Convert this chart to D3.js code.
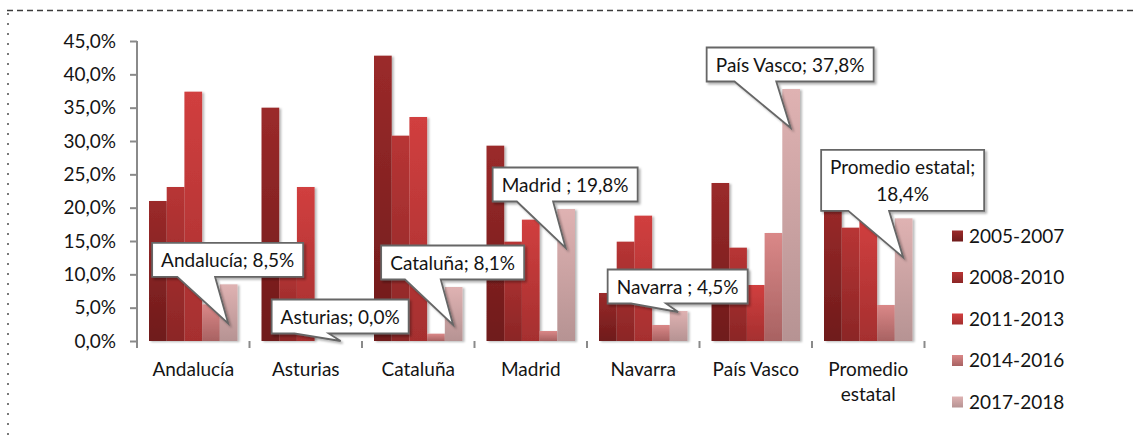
<!DOCTYPE html>
<html><head><meta charset="utf-8">
<script src="https://cdn.jsdelivr.net/npm/d3@7"></script>
<style>
body{margin:0;background:#fff}
svg{display:block}
text{font-family:Lato,"Open Sans",sans-serif;fill:#141414}
</style>
</head><body><svg id="chart" width="1136" height="441"></svg>
<script>
// ---- data ----
const categories = ["Andalucía","Asturias","Cataluña","Madrid","Navarra","País Vasco","Promedio estatal"];
const seriesNames = ["2005-2007","2008-2010","2011-2013","2014-2016","2017-2018"];
const v2005_2007 = [21.0, 35.0, 42.8, 29.3, 7.2, 23.7, 21.0];
const v2008_2010 = [23.1, 12.0, 30.8, 14.9, 14.9, 14.0, 17.0];
const v2011_2013 = [37.4, 23.1, 33.6, 18.2, 18.8, 8.4, 18.5];
const v2014_2016 = [5.5, 0.0, 1.1, 1.5, 2.4, 16.2, 5.4];
const v2017_2018 = [8.5, 0.0, 8.1, 19.8, 4.5, 37.8, 18.4];
const yTicks = [0, 5, 10, 15, 20, 25, 30, 35, 40, 45];
const calloutTexts = [
  ["Andalucía; 8,5%"],
  ["Asturias; 0,0%"],
  ["Cataluña; 8,1%"],
  ["Madrid ; 19,8%"],
  ["Navarra ; 4,5%"],
  ["País Vasco; 37,8%"],
  ["Promedio estatal;", "18,4%"]
];

// ---- styles / layout ----
const seriesValues = [v2005_2007, v2008_2010, v2011_2013, v2014_2016, v2017_2018];
const colTop = ["#9b2a2a", "#b83535", "#d13f3f", "#da8888", "#dfb2b2"];
const colBot = ["#6f1b1b", "#8b2626", "#a52f2f", "#a86262", "#b69393"];
const tipDy = [39, 0, 38, 39, 1, 39, 39];

const svg = d3.select("#chart");
const W = 1136, H = 441;
svg.append("rect").attr("width", W).attr("height", H).attr("fill", "#fff");

const defs = svg.append("defs");
seriesNames.forEach((s, i) => {
  const g = defs.append("linearGradient").attr("id", "g" + i)
    .attr("x1", 0).attr("y1", 0).attr("x2", 0).attr("y2", 1);
  g.append("stop").attr("offset", "0%").attr("stop-color", colTop[i]);
  g.append("stop").attr("offset", "100%").attr("stop-color", colBot[i]);
});
const f = defs.append("filter").attr("id", "sh").attr("x", "-20%").attr("y", "-20%").attr("width", "150%").attr("height", "150%");
f.append("feDropShadow").attr("dx", 2).attr("dy", 1).attr("stdDeviation", 1.3)
  .attr("flood-color", "#000").attr("flood-opacity", 0.28);
const f2 = defs.append("filter").attr("id", "sh2").attr("x", "-20%").attr("y", "-20%").attr("width", "150%").attr("height", "150%");
f2.append("feDropShadow").attr("dx", 2).attr("dy", 2).attr("stdDeviation", 1.2)
  .attr("flood-color", "#000").attr("flood-opacity", 0.3);

// frame
svg.append("line").attr("x1", 7).attr("x2", W).attr("y1", 10.5).attr("y2", 10.5)
  .attr("stroke", "#3c3c3c").attr("stroke-width", 1.3).attr("stroke-dasharray", "6,4");
svg.append("line").attr("x1", 8).attr("x2", 8).attr("y1", 13).attr("y2", H)
  .attr("stroke", "#7a7a7a").attr("stroke-width", 2).attr("stroke-dasharray", "2,8");

// scales
const x = d3.scaleBand().domain(categories).range([137, 924.5]);
const xs = d3.scaleBand().domain(seriesNames).range([12, x.bandwidth() - 12]);
const y = d3.scaleLinear().domain([0, 45]).range([341, 41]);

const loc = d3.formatLocale({decimal: ",", thousands: ".", grouping: [3], currency: ["", "€"]});
const fmt = v => loc.format(".1f")(v) + "%";

// y axis
const yAxis = svg.append("g").attr("transform", "translate(137,0)")
  .call(d3.axisLeft(y).tickValues(yTicks).tickSize(7).tickPadding(14).tickFormat(fmt));
yAxis.select(".domain").attr("stroke", "#8a8a8a").attr("stroke-width", 2)
  .attr("d", "M0," + y(45) + "V" + y(0));
yAxis.selectAll(".tick line").attr("stroke", "#8a8a8a").attr("stroke-width", 2);
yAxis.selectAll(".tick text").attr("font-size", 19).attr("font-family", "Lato").attr("fill", "#141414");

// bars
const barsG = svg.append("g").attr("filter", "url(#sh)");
seriesNames.forEach((s, i) => {
  barsG.selectAll(null).data(categories).join("rect")
    .attr("x", c => x(c) + xs(s))
    .attr("y", (c, j) => y(seriesValues[i][j]))
    .attr("width", xs.bandwidth())
    .attr("height", (c, j) => y(0) - y(seriesValues[i][j]))
    .attr("fill", "url(#g" + i + ")");
});

// x axis
const xAxisG = svg.append("g");
xAxisG.append("line").attr("x1", x.range()[0]).attr("x2", x.range()[1])
  .attr("y1", y(0)).attr("y2", y(0)).attr("stroke", "#8a8a8a").attr("stroke-width", 2.5)
  .attr("filter", "url(#sh)");
const bounds = categories.map(c => x(c)).concat([x.range()[1]]);
xAxisG.selectAll(null).data(bounds).join("line")
  .attr("x1", d => d).attr("x2", d => d).attr("y1", y(0)).attr("y2", y(0) + 7)
  .attr("stroke", "#8a8a8a").attr("stroke-width", 2);
const xl = xAxisG.selectAll(null).data(categories).join("text")
  .attr("text-anchor", "middle").attr("font-size", 19)
  .attr("x", c => x(c) + x.bandwidth() / 2).attr("y", 376);
xl.each(function (c) {
  const t = d3.select(this);
  t.text(c);
  if (this.getComputedTextLength() > x.bandwidth() - 6) {
    t.text(null);
    c.split(" ").forEach((w, k) => {
      t.append("tspan").attr("x", x(c) + x.bandwidth() / 2).attr("dy", k ? 25 : 0).text(w);
    });
  }
});

// callouts on last series
const last = seriesNames[seriesNames.length - 1];
const calG = svg.append("g");
categories.forEach((c, j) => {
  const lines = calloutTexts[j];
  const cx = x(c) + xs(last) + xs.bandwidth() / 2;
  const top = y(seriesValues[4][j]);
  const tx = cx - 0.5, ty = top + tipDy[j];
  const g = calG.append("g");
  const txt = g.append("text").attr("font-size", 19).attr("text-anchor", "middle");
  lines.forEach((ln, k) => txt.append("tspan").attr("x", 0).attr("dy", k ? 27 : 0).text(ln));
  let tw = 0;
  txt.selectAll("tspan").each(function () { tw = Math.max(tw, this.getComputedTextLength()); });
  const bw = Math.round(tw + 18);
  const bh = 34 + (lines.length - 1) * 27;
  const b = top - 7.5, t = b - bh, l = cx - 1 - bw / 2, r = l + bw;
  const right = tx > l + bw / 2 + 2;
  const x1 = l + bw * (right ? 7 : 2) / 12, x2 = l + bw * (right ? 10 : 5) / 12;
  const p = `M${l},${t}H${r}V${b}H${x2}L${tx},${ty}L${x1},${b}H${l}Z`;
  g.insert("path", "text").attr("d", p).attr("fill", "#fff")
    .attr("stroke", "#666").attr("stroke-width", 1.8).attr("stroke-linejoin", "miter")
    .attr("filter", "url(#sh2)");
  txt.attr("transform", `translate(${l + bw / 2},${t + 17 + 7})`);
});

// legend
const lg = svg.append("g");
seriesNames.forEach((s, i) => {
  const cy = 236 + i * 41.5;
  lg.append("rect").attr("x", 952).attr("y", cy - 5.5).attr("width", 11).attr("height", 11)
    .attr("fill", "url(#g" + i + ")");
  lg.append("text").attr("x", 969).attr("y", cy).attr("dy", "0.35em").attr("font-size", 19).text(s);
});
</script>
</body></html>
